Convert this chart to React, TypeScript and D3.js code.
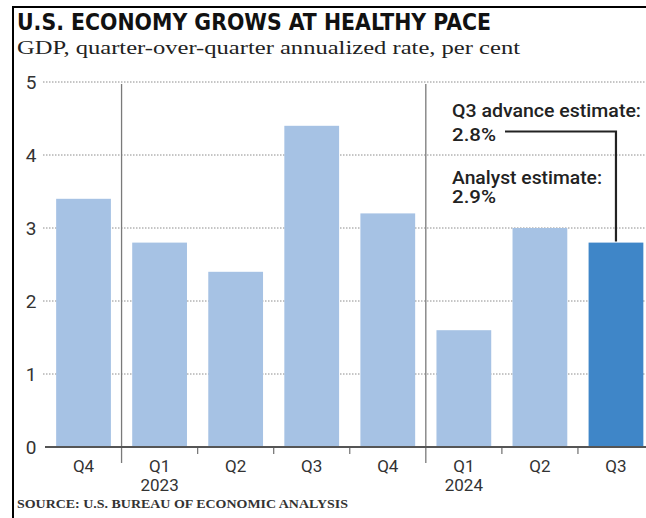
import React from "react";
import * as d3 from "d3";

const categories = ["Q4", "Q1", "Q2", "Q3", "Q4", "Q1", "Q2", "Q3"];
const yearLabels = ["", "2023", "", "", "", "2024", "", ""];
const gdpValues = [3.4, 2.8, 2.4, 4.4, 3.2, 1.6, 3.0, 2.8];
const highlighted = [false, false, false, false, false, false, false, true];
const yTicks = [0, 1, 2, 3, 4, 5];
const yearStartIndex = [1, 5];
const advanceLines = ["Q3 advance estimate:", "2.8%"];
const analystLines = ["Analyst estimate:", "2.9%"];
const title = "U.S. ECONOMY GROWS AT HEALTHY PACE";
const subtitle = "GDP, quarter-over-quarter annualized rate, per cent";
const source = "SOURCE: U.S. BUREAU OF ECONOMIC ANALYSIS";

const W = 646;
const H = 518;
const sans = "Roboto, 'Noto Sans', 'DejaVu Sans', sans-serif";
const serif = "'Liberation Serif', 'DejaVu Serif', serif";
const cond = "'Liberation Sans Narrow', 'DejaVu Sans Condensed', Roboto, sans-serif";

export default function App() {
  const idx = categories.map((_, i) => i);
  const x = d3
    .scaleBand<number>()
    .domain(idx)
    .range([45.5, 654])
    .paddingInner(0.28)
    .paddingOuter(0.14);
  const y = d3.scaleLinear().domain([0, 5]).range([447, 82]);
  const step = x.step();
  const r0 = x.range()[0];
  const boundary = (k: number) => r0 + k * step;
  const bw = x.bandwidth();
  const lastI = categories.length - 1;
  const qx = (x(lastI) as number) + bw / 2;

  return (
    <svg
      width={W}
      height={H}
      viewBox={`0 0 ${W} ${H}`}
      style={{ position: "absolute", left: 0, top: 0, background: "#fff" }}
    >
      <rect x={0} y={0} width={W} height={H} fill="#fff" />
      {/* frame */}
      <line x1={12} x2={W} y1={7} y2={7} stroke="#000" strokeWidth={2} />
      <line x1={13} x2={13} y1={6} y2={H} stroke="#000" strokeWidth={2} />

      <text
        x={17}
        y={30}
        fontFamily={cond}
        fontWeight={700}
        fontSize={23}
        fill="#111"
        textLength={474}
        lengthAdjust="spacingAndGlyphs"
      >
        {title}
      </text>
      <text
        x={17}
        y={54}
        fontFamily={serif}
        fontSize={19}
        fill="#222"
        textLength={503}
        lengthAdjust="spacingAndGlyphs"
      >
        {subtitle}
      </text>

      {/* gridlines */}
      {yTicks
        .filter((t) => t > 0)
        .map((t) => (
          <line
            key={"g" + t}
            x1={43}
            x2={W}
            y1={y(t)}
            y2={y(t)}
            stroke="#8c8c8c"
            strokeWidth={1}
            strokeDasharray="1.5 1.5"
          />
        ))}
      {yTicks.map((t) => (
        <text
          key={"yt" + t}
          x={31}
          y={y(t)}
          dy="0.36em"
          textAnchor="middle"
          fontFamily={sans}
          fontSize={19}
          fill="#333"
        >
          {t}
        </text>
      ))}

      {/* bars */}
      {gdpValues.map((v, i) => (
        <rect
          key={"b" + i}
          x={x(i)}
          y={y(v)}
          width={bw}
          height={y(0) - y(v)}
          fill={highlighted[i] ? "#3f86c8" : "#a6c2e4"}
        />
      ))}

      {/* year separators */}
      {yearStartIndex.map((k) => (
        <line
          key={"sep" + k}
          x1={boundary(k)}
          x2={boundary(k)}
          y1={84}
          y2={463}
          stroke="#7a7a7a"
          strokeWidth={1.3}
        />
      ))}
      {/* minor ticks */}
      {idx
        .slice(1)
        .filter((k) => !yearStartIndex.includes(k))
        .map((k) => (
          <line
            key={"tk" + k}
            x1={boundary(k)}
            x2={boundary(k)}
            y1={447}
            y2={454}
            stroke="#7a7a7a"
            strokeWidth={1.3}
          />
        ))}
      {/* baseline */}
      <line x1={45} x2={W} y1={y(0)} y2={y(0)} stroke="#555" strokeWidth={2} />

      {/* x labels */}
      {categories.map((c, i) => {
        const cx = (x(i) as number) + bw / 2;
        return (
          <g key={"xl" + i}>
            <text
              x={cx}
              y={472}
              textAnchor="middle"
              fontFamily={sans}
              fontSize={17}
              fill="#333"
            >
              {c}
            </text>
            {yearLabels[i] && (
              <text
                x={cx}
                y={491}
                textAnchor="middle"
                fontFamily={sans}
                fontSize={17}
                fill="#333"
              >
                {yearLabels[i]}
              </text>
            )}
          </g>
        );
      })}

      {/* annotation */}
      <path
        d={`M505,131.5 H${qx} V${y(gdpValues[lastI]) - 1}`}
        fill="none"
        stroke="#222"
        strokeWidth={2.2}
      />
      {advanceLines.map((s, i) => (
        <text
          key={"a" + i}
          x={452}
          y={117 + i * 24}
          fontFamily={sans}
          fontWeight={500}
          fontSize={17.5}
          fill="#222"
          textLength={i === 0 ? 189 : 44}
          lengthAdjust="spacingAndGlyphs"
        >
          {s}
        </text>
      ))}
      {analystLines.map((s, i) => (
        <text
          key={"n" + i}
          x={452}
          y={184 + i * 18.5}
          fontFamily={sans}
          fontWeight={500}
          fontSize={17.5}
          fill="#222"
          textLength={i === 0 ? 150 : 44}
          lengthAdjust="spacingAndGlyphs"
        >
          {s}
        </text>
      ))}

      <text
        x={17}
        y={508}
        fontFamily={serif}
        fontWeight={700}
        fontSize={12}
        fill="#333"
        textLength={331}
        lengthAdjust="spacingAndGlyphs"
      >
        {source}
      </text>
    </svg>
  );
}
